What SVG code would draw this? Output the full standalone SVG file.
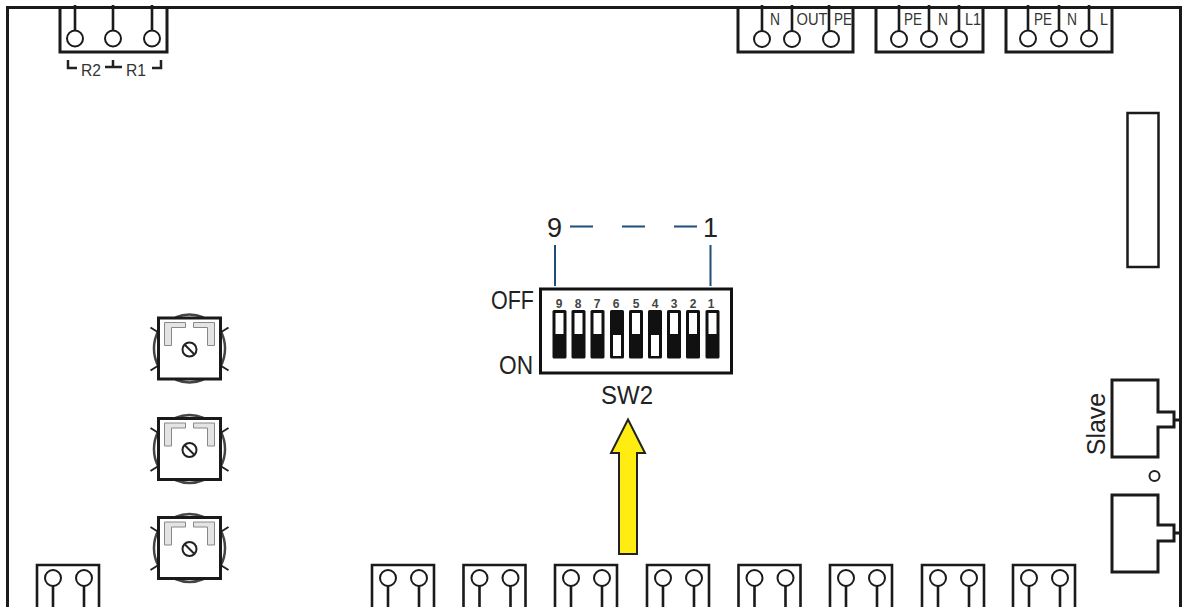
<svg xmlns="http://www.w3.org/2000/svg" width="1182" height="607" viewBox="0 0 1182 607">
<style>
text{font-family:"Liberation Sans",Arial,sans-serif;fill:#222}
.b{fill:none;stroke:#1a1a1a;stroke-width:3}
.t{fill:none;stroke:#1a1a1a;stroke-width:2.6}
.c{fill:#fff;stroke:#1a1a1a;stroke-width:2}
.lab{font-size:16px;text-anchor:middle;fill:#333}
.big{font-size:27px;text-anchor:middle}
.mid{font-size:25px}
.d{font-size:12px;font-weight:bold;text-anchor:middle;fill:#444}
.blue{fill:none;stroke:#1f4e79;stroke-width:2}
.sw{fill:#111}
.win{fill:#fff}
.gr{fill:#e4e4e4;stroke:#888;stroke-width:1}
</style>
<defs>
<g id="bt">
<path class="t" d="M0 43V1H62V43"/>
<path class="t" d="M16 21V43M47 21V43"/>
<circle class="c" cx="16" cy="14" r="8"/>
<circle class="c" cx="47" cy="14" r="8"/>
</g>
<g id="pot">
<path d="M-14 -31A36 36 0 0 1 14 -31M-14 31A36 36 0 0 0 14 31M-31 -18A38 38 0 0 0 -31 18M31 -18A38 38 0 0 1 31 18" fill="none" stroke="#444" stroke-width="2.500"/>
<path d="M-39 -21L-31 -16M39 -21L31 -16M-39 22L-31 17M39 22L31 17" fill="none" stroke="#222" stroke-width="2"/>
<rect x="-31" y="-30.500" width="62" height="61" fill="#fff" stroke="#1a1a1a" stroke-width="3"/>
<path class="gr" d="M-4 -26H-25V-3H-18V-21H-4Z"/>
<path class="gr" d="M4 -26H25V-3H18V-21H4Z"/>
<circle cx="0" cy="1" r="7" fill="#fff" stroke="#222" stroke-width="2"/>
<path d="M-4.500 -3.500L4.500 5.500" stroke="#222" stroke-width="2"/>
</g>
</defs>

<g id="board"><path d="M7.500 607V7.500H1180.500V607" fill="none" stroke="#1a1a1a" stroke-width="3"/></g>

<g id="terminal-r">
<path class="b" d="M60 7V52H167V7"/>
<path class="t" d="M75 5V31M113 5V31M152 5V31"/>
<circle class="c" cx="75" cy="38.500" r="8"/><circle class="c" cx="113" cy="38.500" r="8"/><circle class="c" cx="152" cy="38.500" r="8"/>
<path d="M68 60V68H77M105 67H122M113 60V67M152 68H161V60" fill="none" stroke="#222" stroke-width="2.500"/>
<text class="lab" x="91" y="76" textLength="20" lengthAdjust="spacingAndGlyphs">R2</text><text class="lab" x="136" y="76" textLength="20" lengthAdjust="spacingAndGlyphs">R1</text>
</g>

<g id="terminal-out">
<path class="b" d="M738 7V52H853V7"/>
<path class="t" d="M762 5V32M792 5V32M829 5V32"/>
<circle class="c" cx="762" cy="39" r="8"/><circle class="c" cx="792" cy="39" r="8"/><circle class="c" cx="831" cy="39" r="8"/>
<text class="lab" x="775" y="25" textLength="10" lengthAdjust="spacingAndGlyphs">N</text><text class="lab" x="812" y="25" textLength="31" lengthAdjust="spacingAndGlyphs">OUT</text><text class="lab" x="843" y="25" textLength="18" lengthAdjust="spacingAndGlyphs">PE</text>
</g>
<g id="terminal-l1">
<path class="b" d="M876 7V52H983V7"/>
<path class="t" d="M899 5V32M929 5V32M959 5V32"/>
<circle class="c" cx="899" cy="39" r="8"/><circle class="c" cx="929" cy="39" r="8"/><circle class="c" cx="959" cy="39" r="8"/>
<text class="lab" x="913" y="25" textLength="18" lengthAdjust="spacingAndGlyphs">PE</text><text class="lab" x="943" y="25" textLength="10" lengthAdjust="spacingAndGlyphs">N</text><text class="lab" x="973" y="25" textLength="16" lengthAdjust="spacingAndGlyphs">L1</text>
</g>
<g id="terminal-l">
<path class="b" d="M1006 7V52H1112V7"/>
<path class="t" d="M1028 5V32M1059 5V32M1089 5V32"/>
<circle class="c" cx="1028" cy="38.500" r="8"/><circle class="c" cx="1059" cy="38.500" r="8"/><circle class="c" cx="1089" cy="38.500" r="8"/>
<text class="lab" x="1043" y="25" textLength="18" lengthAdjust="spacingAndGlyphs">PE</text><text class="lab" x="1072" y="25" textLength="10" lengthAdjust="spacingAndGlyphs">N</text><text class="lab" x="1104" y="25" textLength="8" lengthAdjust="spacingAndGlyphs">L</text>
</g>

<g id="header"><rect x="1127.500" y="113" width="31" height="154" fill="none" stroke="#1a1a1a" stroke-width="2.500"/></g>

<g id="slave-connector">
<path class="b" d="M1158 412V380H1112V457H1158V427H1174V412ZM1174 420H1180"/>
<text transform="translate(1105 424) rotate(-90)" text-anchor="middle" style="font-size:25px">Slave</text>
</g>
<g id="led"><circle cx="1154.500" cy="476" r="5" fill="#fff" stroke="#222" stroke-width="2"/></g>
<g id="connector-2"><path class="b" d="M1158 525V495H1112V572H1158V541H1174V525ZM1174 533H1180"/></g>

<g id="pot-1"><use href="#pot" x="189.500" y="348.500"/></g>
<g id="pot-2"><use href="#pot" x="189.500" y="449"/></g>
<g id="pot-3"><use href="#pot" x="189.500" y="548"/></g>

<g id="sw2">
<rect x="540.500" y="289" width="191" height="84" fill="#fff" stroke="#111" stroke-width="3"/>
<g class="d-labels">
<text class="d" x="559" y="308">9</text><text class="d" x="578" y="308">8</text><text class="d" x="597" y="308">7</text><text class="d" x="616" y="308">6</text><text class="d" x="636" y="308">5</text><text class="d" x="655" y="308">4</text><text class="d" x="674" y="308">3</text><text class="d" x="693" y="308">2</text><text class="d" x="711" y="308">1</text>
</g>
<rect class="sw" x="552.500" y="310" width="14" height="48.500" rx="1.500"/><rect class="win" x="555.500" y="313" width="8" height="21"/>
<rect class="sw" x="571.500" y="310" width="14" height="48.500" rx="1.500"/><rect class="win" x="574.500" y="313" width="8" height="21"/>
<rect class="sw" x="590.500" y="310" width="14" height="48.500" rx="1.500"/><rect class="win" x="593.500" y="313" width="8" height="21"/>
<rect class="sw" x="610" y="310" width="14" height="48.500" rx="1.500"/><rect class="win" x="613" y="335" width="8" height="21"/>
<rect class="sw" x="629" y="310" width="14" height="48.500" rx="1.500"/><rect class="win" x="632" y="313" width="8" height="21"/>
<rect class="sw" x="648" y="310" width="14" height="48.500" rx="1.500"/><rect class="win" x="651" y="335" width="8" height="21"/>
<rect class="sw" x="667" y="310" width="14" height="48.500" rx="1.500"/><rect class="win" x="670" y="313" width="8" height="21"/>
<rect class="sw" x="686" y="310" width="14" height="48.500" rx="1.500"/><rect class="win" x="689" y="313" width="8" height="21"/>
<rect class="sw" x="705.500" y="310" width="14" height="48.500" rx="1.500"/><rect class="win" x="708.500" y="313" width="8" height="21"/>
<text class="mid" x="491" y="309" textLength="43" lengthAdjust="spacingAndGlyphs">OFF</text>
<text class="mid" x="499" y="374" textLength="34" lengthAdjust="spacingAndGlyphs">ON</text>
<text x="627" y="404" text-anchor="middle" textLength="52" lengthAdjust="spacingAndGlyphs" style="font-size:25px">SW2</text>
<text class="big" x="554.500" y="237">9</text>
<text class="big" x="710.500" y="237">1</text>
</g>

<g id="connectors">
<path class="blue" d="M570 226.500H593M622 226.500H645M674 226.500H697M555 245V286M710.500 245V286"/>
</g>

<g id="arrow"><path d="M628 419.500L611 453H619V554H637V453H645Z" fill="#FFED12" stroke="#222" stroke-width="2"/></g>

<g id="bottom-terminals">
<g id="bt-1"><use href="#bt" x="37" y="564"/></g>
<g id="bt-2"><use href="#bt" x="372" y="564"/></g>
<g id="bt-3"><use href="#bt" x="463.500" y="564"/></g>
<g id="bt-4"><use href="#bt" x="555" y="564"/></g>
<g id="bt-5"><use href="#bt" x="647" y="564"/></g>
<g id="bt-6"><use href="#bt" x="738.500" y="564"/></g>
<g id="bt-7"><use href="#bt" x="830" y="564"/></g>
<g id="bt-8"><use href="#bt" x="922" y="564"/></g>
<g id="bt-9"><use href="#bt" x="1013" y="564"/></g>
</g>
</svg>
